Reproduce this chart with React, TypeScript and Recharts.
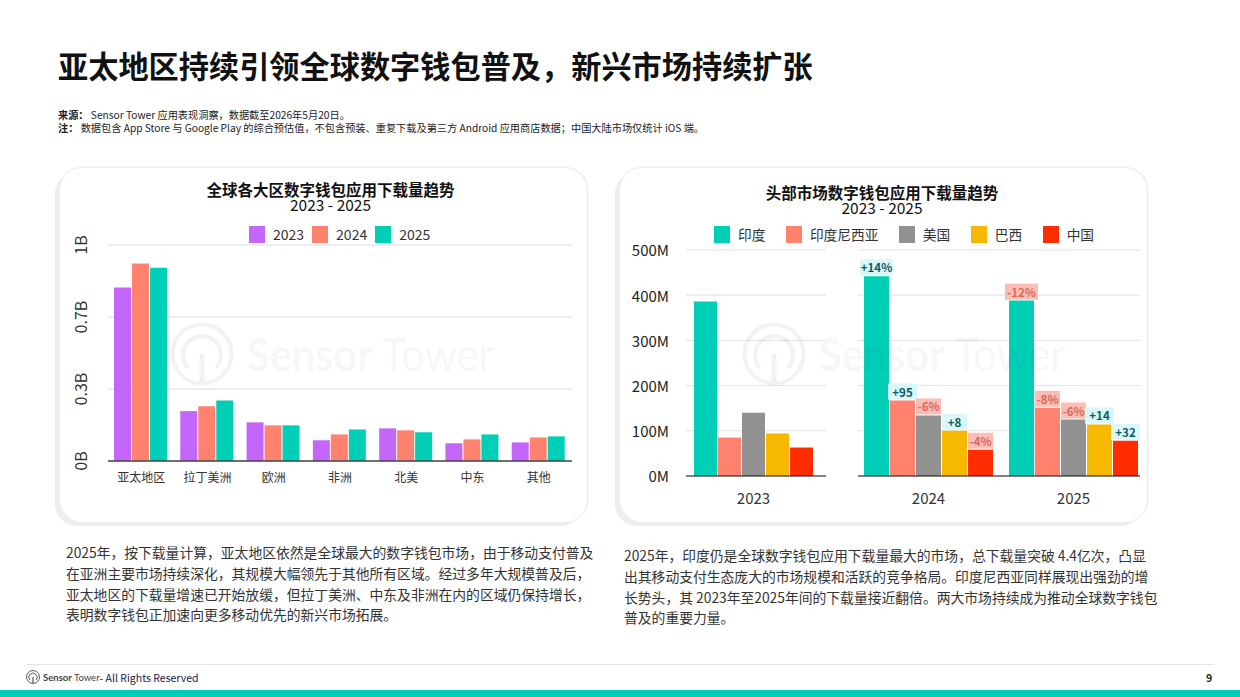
import { BarChart, Bar, XAxis, YAxis, CartesianGrid, LabelList } from 'recharts'

const FONT = '"Noto Sans CJK SC", "Noto Sans", sans-serif'

const regions = ['亚太地区', '拉丁美洲', '欧洲', '非洲', '北美', '中东', '其他']
const regionYears = ['2023', '2024', '2025']
const regionColors = ['#C466F9', '#FF826E', '#00CFB7']
const values2023 = [0.803, 0.231, 0.179, 0.096, 0.151, 0.082, 0.086]
const values2024 = [0.914, 0.253, 0.165, 0.123, 0.142, 0.1, 0.109]
const values2025 = [0.895, 0.28, 0.165, 0.146, 0.133, 0.123, 0.114]
const regionTicks = [0, 1 / 3, 2 / 3, 1]
const regionTickLabels = ['0B', '0.3B', '0.7B', '1B']

const markets = ['印度', '印度尼西亚', '美国', '巴西', '中国']
const marketColors = ['#00CFB7', '#FF826E', '#919191', '#F7B900', '#FF2D00']
const years = ['2023', '2024', '2025']
const india = [386, 442, 388]
const indonesia = [85, 167, 151]
const usa = [140, 134, 125]
const brazil = [94, 100, 114]
const china = [63, 58, 78]
const indiaBadges = ['', '+14%', '-12%']
const indonesiaBadges = ['', '+95', '-8%']
const usaBadges = ['', '-6%', '-6%']
const brazilBadges = ['', '+8', '+14']
const chinaBadges = ['', '-4%', '+32']
const marketTicks = [0, 100, 200, 300, 400, 500]

const leftText = [
    '2025年，按下载量计算，亚太地区依然是全球最大的数字钱包市场，由于移动支付普及',
    '在亚洲主要市场持续深化，其规模大幅领先于其他所有区域。经过多年大规模普及后，',
    '亚太地区的下载量增速已开始放缓，但拉丁美洲、中东及非洲在内的区域仍保持增长，',
    '表明数字钱包正加速向更多移动优先的新兴市场拓展。',
]
const rightText = [
    '2025年，印度仍是全球数字钱包应用下载量最大的市场，总下载量突破 4.4亿次，凸显',
    '出其移动支付生态庞大的市场规模和活跃的竞争格局。印度尼西亚同样展现出强劲的增',
    '长势头，其 2023年至2025年间的下载量接近翻倍。两大市场持续成为推动全球数字钱包',
    '普及的重要力量。',
]

const regionRows = regions.map((name, i) => ({
    name,
    y2023: values2023[i],
    y2024: values2024[i],
    y2025: values2025[i],
}))

const marketRows = years.map((year, i) => ({
    year,
    m0: india[i],
    m1: indonesia[i],
    m2: usa[i],
    m3: brazil[i],
    m4: china[i],
    b0: indiaBadges[i],
    b1: indonesiaBadges[i],
    b2: usaBadges[i],
    b3: brazilBadges[i],
    b4: chinaBadges[i],
}))

function RotatedTick({ x, y, index }: any) {
    const tx = x - 20
    return (
        <text
            x={tx}
            y={y}
            transform={`rotate(-90 ${tx} ${y})`}
            textAnchor="middle"
            dominantBaseline="central"
            fontSize={16}
            fill="#333"
            fontFamily={FONT}
        >
            {regionTickLabels[index]}
        </text>
    )
}

function Badge({ x, y, width, value }: any) {
    if (!value) return null
    const text = String(value)
    const w = Math.max(width, text.length >= 4 ? 33 : text.length === 3 && text.startsWith('+') ? 29 : 25)
    const up = text.startsWith('+')
    return (
        <g>
            <rect
                x={x + width / 2 - w / 2}
                y={y - 17}
                width={w}
                height={16}
                fill={up ? '#D8F9F8' : '#FDBDB5'}
            />
            <text
                x={x + width / 2}
                y={y - 9}
                textAnchor="middle"
                dominantBaseline="central"
                fontSize={11.5}
                fontWeight={700}
                fill={up ? '#0E5A64' : '#D9685A'}
                fontFamily={FONT}
            >
                {text}
            </text>
        </g>
    )
}

function Swatches({ names, colors, gap, left, top, fontSize }: any) {
    return (
        <div style={{ position: 'absolute', left, top, display: 'flex', gap, alignItems: 'center' }}>
            {names.map((name: string, i: number) => (
                <div key={name} style={{ display: 'flex', alignItems: 'center', gap: 8 }}>
                    <div style={{ width: 16, height: 17, background: colors[i] }} />
                    <span style={{ fontSize, color: '#333', lineHeight: '17px' }}>{name}</span>
                </div>
            ))}
        </div>
    )
}

function Watermark({ left, top }: any) {
    return (
        <div
            style={{
                position: 'absolute',
                left,
                top,
                display: 'flex',
                alignItems: 'center',
                gap: 13,
                pointerEvents: 'none',
                color: 'rgba(0,0,0,0.05)',
                fontFamily: 'Lato, sans-serif',
                fontSize: 46,
                lineHeight: '64px',
                whiteSpace: 'nowrap',
            }}
        >
            <Logo size={64} color="rgba(0,0,0,0.05)" />
            <span style={{ display: 'inline-block', transform: 'scaleX(0.9)', transformOrigin: 'left center' }}>
                <b>Sensor</b> Tower
            </span>
        </div>
    )
}

function Logo({ size, color }: any) {
    return (
        <svg width={size} height={size} viewBox="0 0 64 64" fill="none" stroke={color}>
            <circle cx="32" cy="32" r="29.5" strokeWidth="4" />
            <path d="M18 46 A19 19 0 1 1 46 46" strokeWidth="4" />
            <path d="M32 32 V60" strokeWidth="5" />
        </svg>
    )
}

function Card({ left, width }: any) {
    return (
        <div
            style={{
                position: 'absolute',
                left,
                top: 168,
                width,
                height: 354,
                background: '#fff',
                borderRadius: 22,
                boxShadow: '-5px 4px 0 #EDEDED, 0 -1px 2px #E8E8E8, 1px 0 2px #E8E8E8',
            }}
        />
    )
}

function ChartTitle({ left, top, width, title }: any) {
    return (
        <div style={{ position: 'absolute', left, top, width, textAlign: 'center', color: '#111' }}>
            <div style={{ fontSize: 15.5, fontWeight: 700, lineHeight: '16px' }}>{title}</div>
            <div style={{ fontSize: 15.5, lineHeight: '15px' }}>2023 - 2025</div>
        </div>
    )
}

function TextBlock({ left, top, lines, fontSize }: any) {
    return (
        <div style={{ position: 'absolute', left, top, fontSize, lineHeight: '20.8px', color: '#333', whiteSpace: 'nowrap' }}>
            {lines.map((line: string) => (
                <div key={line}>{line}</div>
            ))}
        </div>
    )
}

function MarketBars({ withBadges }: any) {
    return marketColors.map((color, i) => (
        <Bar key={color} dataKey={`m${i}`} fill={color} isAnimationActive={false}>
            {withBadges && <LabelList dataKey={`b${i}`} content={<Badge />} />}
        </Bar>
    ))
}

export default function App() {
    return (
        <div style={{ position: 'absolute', left: 0, top: 0, width: 1240, height: 697, background: '#fff', overflow: 'hidden', fontFamily: FONT }}>
            <div style={{ position: 'absolute', left: 58, top: 44, fontSize: 30.2, fontWeight: 700, lineHeight: '42px', color: '#111', whiteSpace: 'nowrap' }}>
                亚太地区持续引领全球数字钱包普及，新兴市场持续扩张
            </div>
            <div style={{ position: 'absolute', left: 58, top: 108, fontSize: 10.2, lineHeight: '13.2px', color: '#222', whiteSpace: 'nowrap' }}>
                <div><b>来源：</b> Sensor Tower 应用表现洞察，数据截至2026年5月20日。</div>
                <div><b>注：</b> 数据包含 App Store 与 Google Play 的综合预估值，不包含预装、重复下载及第三方 Android 应用商店数据；中国大陆市场仅统计 iOS 端。</div>
            </div>

            <Card left={60} width={527} />
            <Card left={620} width={527} />

            <ChartTitle left={60} top={181} width={541} title="全球各大区数字钱包应用下载量趋势" />
            <Swatches names={regionYears} colors={regionColors} gap={8} left={249} top={226} fontSize={14} />
            <div style={{ position: 'absolute', left: 55, top: 168 }}>
                <BarChart
                    width={533}
                    height={357}
                    data={regionRows}
                    margin={{ top: 77, right: 16, bottom: 34, left: 13 }}
                    barCategoryGap={6}
                    barGap={1}
                >
                    <CartesianGrid vertical={false} stroke="#DDDDDD" />
                    <XAxis
                        dataKey="name"
                        height={30}
                        tickLine={false}
                        tickMargin={6}
                        stroke="#444"
                        strokeWidth={1.5}
                        tick={{ fontSize: 12, fill: '#333', fontFamily: FONT }}
                        interval={0}
                    />
                    <YAxis
                        width={40}
                        domain={[0, 1]}
                        ticks={regionTicks}
                        axisLine={false}
                        tickLine={false}
                        tick={<RotatedTick />}
                    />
                    <Bar dataKey="y2023" fill={regionColors[0]} isAnimationActive={false} />
                    <Bar dataKey="y2024" fill={regionColors[1]} isAnimationActive={false} />
                    <Bar dataKey="y2025" fill={regionColors[2]} isAnimationActive={false} />
                </BarChart>
            </div>
            <Watermark left={170} top={322} />
            <TextBlock left={66} top={542} lines={leftText} fontSize={13.8} />

            <ChartTitle left={620} top={184} width={524} title="头部市场数字钱包应用下载量趋势" />
            <Swatches names={markets} colors={marketColors} gap={20.5} left={714} top={226} fontSize={13.7} />
            <div style={{ position: 'absolute', left: 620, top: 168 }}>
                <BarChart
                    width={210}
                    height={357}
                    data={marketRows.slice(0, 1)}
                    margin={{ top: 82, right: 4, bottom: 19, left: 6 }}
                    barCategoryGap={8}
                    barGap={1}
                >
                    <CartesianGrid vertical={false} stroke="#E2E2E2" />
                    <XAxis
                        dataKey="year"
                        height={30}
                        padding={{ left: 0, right: 5 }}
                        tickLine={false}
                        tickMargin={11}
                        stroke="#111"
                        tick={{ fontSize: 15, fill: '#333', fontFamily: FONT }}
                    />
                    <YAxis
                        width={60}
                        domain={[0, 500]}
                        ticks={marketTicks}
                        axisLine={false}
                        tickLine={false}
                        tickMargin={11}
                        tickFormatter={(v: number) => `${v}M`}
                        tick={{ fontSize: 15, fill: '#222', fontFamily: FONT, dy: 1 }}
                    />
                    {MarketBars({ withBadges: false })}
                </BarChart>
            </div>
            <div style={{ position: 'absolute', left: 858, top: 168 }}>
                <BarChart
                    width={282}
                    height={357}
                    data={marketRows.slice(1)}
                    margin={{ top: 82, right: 0, bottom: 19, left: 0 }}
                    barCategoryGap={8}
                    barGap={1}
                >
                    <CartesianGrid vertical={false} stroke="#E2E2E2" />
                    <XAxis
                        dataKey="year"
                        height={30}
                        padding={{ left: -2, right: -6 }}
                        tickLine={false}
                        tickMargin={11}
                        stroke="#111"
                        tick={{ fontSize: 15, fill: '#333', fontFamily: FONT }}
                    />
                    <YAxis hide domain={[0, 500]} ticks={marketTicks} />
                    {MarketBars({ withBadges: true })}
                </BarChart>
            </div>
            <Watermark left={742} top={322} />
            <TextBlock left={624} top={545} lines={rightText} fontSize={13.8} />

            <div style={{ position: 'absolute', left: 27, top: 664, width: 1187, height: 1, background: '#E4E4E4' }} />
            <div style={{ position: 'absolute', left: 26, top: 669, display: 'flex', alignItems: 'center', gap: 3, whiteSpace: 'nowrap', height: 16 }}>
                <Logo size={14} color="#444" />
                <span style={{ fontFamily: 'Lato, sans-serif', fontSize: 9.5, color: '#444' }}><b>Sensor</b> Tower</span>
                <span style={{ fontSize: 10.5, color: '#1A1A4A', marginLeft: -3 }}>- All Rights Reserved</span>
            </div>
            <div style={{ position: 'absolute', left: 1206, top: 670, fontSize: 10.5, fontWeight: 700, color: '#222' }}>9</div>
            <div style={{ position: 'absolute', left: 0, top: 690, width: 1240, height: 7, background: '#00CFB7' }} />
        </div>
    )
}
